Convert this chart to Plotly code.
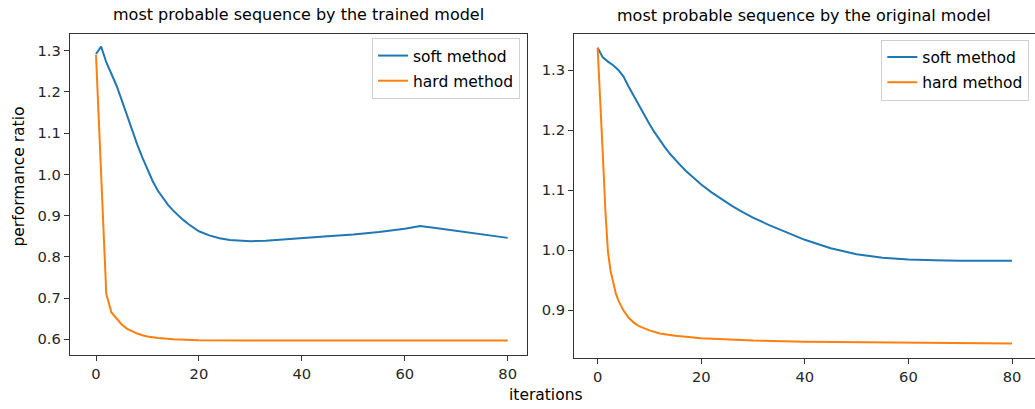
import plotly.graph_objects as go

# ---------------- data ----------------
# left panel: most probable sequence by the trained model
left_soft_x = [0, 1, 2, 3, 4, 5, 6, 7, 8, 9, 10, 11, 12, 13, 14, 15, 16, 17, 18, 19, 20,
               22, 24, 26, 28, 30, 33, 36, 40, 45, 50, 55, 60, 63, 66, 70, 75, 80]
left_soft_y = [1.292, 1.310, 1.272, 1.243, 1.215, 1.180, 1.143, 1.108, 1.073, 1.041, 1.011,
               0.984, 0.961, 0.942, 0.926, 0.912, 0.900, 0.889, 0.879, 0.870, 0.862,
               0.852, 0.845, 0.841, 0.839, 0.838, 0.839, 0.842, 0.846, 0.850, 0.854,
               0.860, 0.868, 0.875, 0.870, 0.863, 0.855, 0.846]

left_hard_x = [0, 1, 2, 3, 4, 5, 6, 7, 8, 9, 10, 12, 15, 20, 25, 30, 40, 50, 60, 70, 80]
left_hard_y = [1.290, 1.000, 0.710, 0.665, 0.650, 0.636, 0.626, 0.619, 0.614, 0.610, 0.607,
               0.603, 0.600, 0.598, 0.597, 0.597, 0.597, 0.597, 0.597, 0.597, 0.597]

# right panel: most probable sequence by the original model
right_soft_x = [0, 1, 2, 3, 4, 5, 6, 7, 8, 9, 10, 11, 12, 13, 14, 15, 16, 17, 18, 19, 20,
                22, 24, 26, 28, 30, 33, 36, 40, 45, 50, 55, 60, 65, 70, 80]
right_soft_y = [1.337, 1.321, 1.314, 1.308, 1.300, 1.289, 1.272, 1.256, 1.240, 1.225, 1.210,
                1.196, 1.183, 1.171, 1.160, 1.150, 1.141, 1.132, 1.124, 1.116, 1.109,
                1.096, 1.084, 1.073, 1.063, 1.054, 1.042, 1.031, 1.017, 1.003, 0.993,
                0.987, 0.984, 0.983, 0.982, 0.982]

right_hard_x = [0, 0.5, 1, 1.5, 2, 2.5, 3, 3.5, 4, 5, 6, 7, 8, 10, 12, 15, 20, 25, 30, 40,
                50, 60, 80]
right_hard_y = [1.337, 1.255, 1.160, 1.065, 0.997, 0.965, 0.944, 0.928, 0.916, 0.899, 0.887,
                0.879, 0.873, 0.866, 0.861, 0.857, 0.853, 0.851, 0.849, 0.847, 0.846,
                0.845, 0.844]

x_ticks = [0, 20, 40, 60, 80]
left_y_ticks = [0.6, 0.7, 0.8, 0.9, 1.0, 1.1, 1.2, 1.3]
right_y_ticks = [0.9, 1.0, 1.1, 1.2, 1.3]

series_names = ["soft method", "hard method"]
colors = ["#1f77b4", "#ff7f0e"]
titles = ["most probable sequence by the trained model",
          "most probable sequence by the original model"]

# ---------------- figure ----------------
W, H = 1035, 409
FONT = "DejaVu Sans"

fig = go.Figure()

fig.add_trace(go.Scatter(x=left_soft_x, y=left_soft_y, mode="lines", name=series_names[0],
                         line=dict(color=colors[0], width=2), xaxis="x", yaxis="y",
                         legend="legend", legendgroup="a"))
fig.add_trace(go.Scatter(x=left_hard_x, y=left_hard_y, mode="lines", name=series_names[1],
                         line=dict(color=colors[1], width=2), xaxis="x", yaxis="y",
                         legend="legend", legendgroup="b"))
fig.add_trace(go.Scatter(x=right_soft_x, y=right_soft_y, mode="lines", name=series_names[0],
                         line=dict(color=colors[0], width=2), xaxis="x2", yaxis="y2",
                         legend="legend2", legendgroup="c"))
fig.add_trace(go.Scatter(x=right_hard_x, y=right_hard_y, mode="lines", name=series_names[1],
                         line=dict(color=colors[1], width=2), xaxis="x2", yaxis="y2",
                         legend="legend2", legendgroup="d"))

axis_common = dict(showgrid=False, zeroline=False, showline=True, linecolor="#333333",
                   linewidth=1, mirror=True, ticks="outside", ticklen=5, tickwidth=1,
                   tickcolor="#333333", tickfont=dict(family=FONT, size=14.7, color="#262626"))

L = dict(x0=69.7, x1=527.3, y0=34.0, y1=355.3)
R = dict(x0=574.0, x1=1035.0, y0=33.7, y1=358.0)

def dom_x(d):
    return [d["x0"] / W, d["x1"] / W]

def dom_y(d):
    return [(H - d["y1"]) / H, (H - d["y0"]) / H]

legend_common = dict(xanchor="right", yanchor="top", bgcolor="white",
                     bordercolor="#d0d0d0", borderwidth=1,
                     font=dict(family=FONT, size=15.5, color="#000000"),
                     tracegroupgap=2, itemwidth=30)

fig.update_layout(
    width=W, height=H,
    margin=dict(l=0, r=0, t=0, b=0),
    paper_bgcolor="white", plot_bgcolor="white",
    font=dict(family=FONT, color="#000000"),
    xaxis=dict(domain=dom_x(L), anchor="y", range=[-5.11, 83.81],
               tickvals=x_ticks, **axis_common),
    yaxis=dict(domain=dom_y(L), anchor="x", range=[0.5612, 1.3405],
               tickvals=left_y_ticks, tickformat=".1f", **axis_common),
    xaxis2=dict(domain=dom_x(R), anchor="y2", range=[-4.56, 84.44],
                tickvals=x_ticks, **axis_common),
    yaxis2=dict(domain=dom_y(R), anchor="x2", range=[0.82, 1.3605],
                tickvals=right_y_ticks, tickformat=".1f", **axis_common),
    legend=dict(x=520 / W, y=(H - 38) / H, **legend_common),
    legend2=dict(x=1029.3 / W, y=(H - 39.5) / H, **legend_common),
    showlegend=True,
)

annotations = [
    dict(text=titles[0], x=(L["x0"] + L["x1"]) / 2 / W, y=(H - 14) / H,
         xref="paper", yref="paper", showarrow=False, xanchor="center", yanchor="middle",
         font=dict(family=FONT, size=16, color="#000000")),
    dict(text=titles[1], x=804 / W, y=(H - 15) / H,
         xref="paper", yref="paper", showarrow=False, xanchor="center", yanchor="middle",
         font=dict(family=FONT, size=16, color="#000000")),
    dict(text="performance ratio", x=18.5 / W, y=(H - 177) / H, textangle=-90,
         xref="paper", yref="paper", showarrow=False, xanchor="center", yanchor="middle",
         font=dict(family=FONT, size=15.5, color="#000000")),
    dict(text="iterations", x=545.5 / W, y=(H - 395) / H,
         xref="paper", yref="paper", showarrow=False, xanchor="center", yanchor="middle",
         font=dict(family=FONT, size=15.5, color="#000000")),
]
fig.update_layout(annotations=annotations)

fig.write_html("out.html")
